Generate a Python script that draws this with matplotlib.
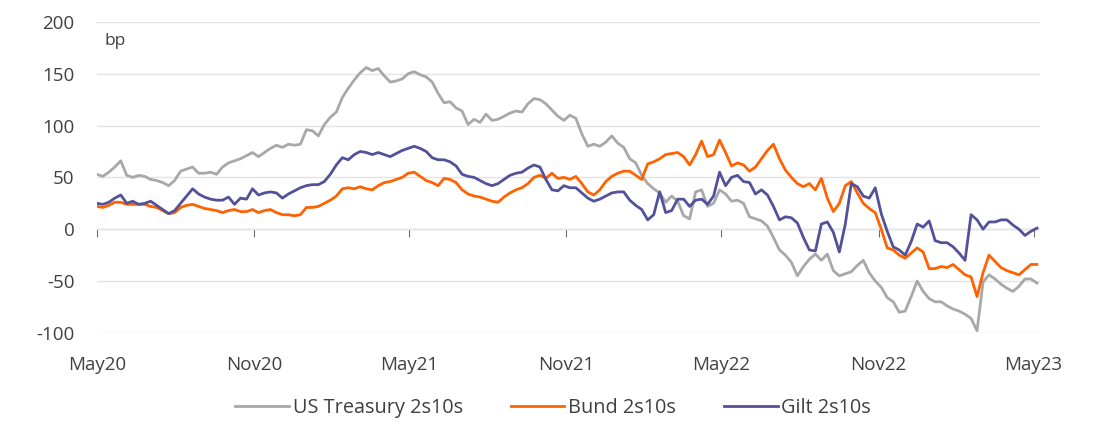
import numpy as np
import pandas as pd
import matplotlib
matplotlib.use('Agg')
import matplotlib.pyplot as plt
import matplotlib.dates as mdates

plt.rcParams['font.family'] = ['Open Sans', 'DejaVu Sans']
plt.rcParams['axes.unicode_minus'] = False

# weekly observations, May 2020 - May 2023 (bp)
dates = pd.date_range('2020-05-01', periods=158, freq='7D')

ust = [53, 51, 55, 60, 66, 52, 50, 52, 51, 48, 47, 45, 42, 47, 56, 58, 60, 54, 54, 55,
       53, 60, 64, 66, 68, 71, 74, 70, 74, 78, 81, 79, 82, 81, 82, 96, 95, 90, 101, 108,
       113, 127, 136, 144, 151, 156, 153, 155, 148, 142, 143, 145, 150, 152, 149, 147, 142, 131, 122, 123,
       117, 114, 101, 106, 103, 111, 105, 106, 109, 112, 114, 113, 121, 126, 125, 121, 115, 109, 105, 110,
       107, 92, 80, 82, 80, 84, 90, 83, 79, 68, 64, 52, 44, 39, 35, 26, 32, 27, 13, 10,
       36, 38, 22, 25, 38, 34, 27, 28, 25, 12, 10, 8, 3, -8, -20, -25, -32, -45, -36, -29,
       -24, -30, -24, -40, -45, -43, -41, -35, -30, -42, -50, -56, -66, -70, -80, -79, -65, -50, -60, -67,
       -70, -70, -74, -77, -79, -82, -86, -98, -51, -44, -48, -53, -57, -60, -55, -48, -48, -52]

bund = [22, 21, 23, 26, 26, 24, 24, 24, 24, 22, 21, 18, 15, 16, 21, 23, 24, 22, 20, 19,
        18, 16, 18, 19, 17, 17, 19, 16, 18, 19, 16, 14, 14, 13, 14, 21, 21, 22, 25, 28,
        32, 39, 40, 39, 41, 39, 38, 42, 45, 46, 48, 50, 54, 55, 51, 47, 45, 42, 49, 48,
        45, 38, 34, 32, 31, 29, 27, 26, 31, 35, 38, 40, 44, 50, 52, 49, 54, 49, 50, 48,
        51, 44, 36, 33, 38, 46, 51, 54, 56, 56, 52, 48, 63, 65, 68, 72, 73, 74, 70, 62,
        72, 85, 70, 72, 86, 74, 61, 64, 62, 56, 60, 68, 76, 82, 68, 57, 50, 44, 41, 44,
        38, 49, 30, 17, 25, 42, 46, 35, 25, 20, 16, 0, -18, -20, -25, -28, -23, -18, -22, -38,
        -38, -36, -37, -34, -39, -44, -46, -65, -42, -25, -31, -37, -40, -42, -44, -39, -34, -34]

gilt = [25, 24, 26, 30, 33, 25, 27, 24, 25, 27, 23, 19, 15, 18, 25, 32, 39, 34, 31, 29,
        28, 28, 31, 24, 30, 29, 39, 33, 35, 36, 35, 30, 34, 37, 40, 42, 43, 43, 46, 53,
        62, 69, 67, 72, 75, 74, 72, 74, 72, 70, 73, 76, 78, 80, 78, 75, 69, 67, 67, 65,
        61, 53, 51, 50, 47, 44, 42, 44, 48, 52, 54, 55, 59, 62, 60, 48, 38, 37, 42, 40,
        40, 35, 30, 27, 29, 32, 35, 36, 36, 28, 23, 19, 9, 14, 36, 16, 18, 29, 29, 22,
        28, 29, 24, 32, 55, 42, 50, 52, 46, 45, 34, 38, 33, 22, 9, 12, 11, 6, -8, -20,
        -21, 5, 7, -3, -22, 5, 44, 41, 32, 30, 40, 15, -2, -17, -20, -25, -12, 5, 2, 8,
        -11, -13, -13, -17, -23, -30, 14, 9, 0, 7, 7, 9, 9, 4, 0, -6, -2, 1]

tick_dates = pd.date_range('2020-05-01', periods=7, freq='6MS')
tick_labels = ['May20', 'Nov20', 'May21', 'Nov21', 'May22', 'Nov22', 'May23']

fig = plt.figure(figsize=(11, 4.38), dpi=100)
ax = fig.add_axes([0.088, 0.24, 0.857, 0.71])

ax.plot(dates, ust, color='#A8A8A8', lw=2.0, label='US Treasury 2s10s')
ax.plot(dates, bund, color='#FF6200', lw=2.0, label='Bund 2s10s')
ax.plot(dates, gilt, color='#525199', lw=2.0, label='Gilt 2s10s')

ax.set_ylim(-100, 200)
ax.set_yticks(range(-100, 201, 50))
ax.set_xlim(pd.Timestamp('2020-05-01'), pd.Timestamp('2023-05-08'))
ax.grid(axis='y', color='#E4E4E4', lw=1)
ax.set_axisbelow(True)
for s in ax.spines.values():
    s.set_visible(False)

ax.set_xticks(tick_dates)
ax.set_xticklabels(tick_labels)
ax.tick_params(axis='x', length=0, pad=17, labelsize=13.5, colors='#404040')
ax.tick_params(axis='y', length=0, pad=16, labelsize=13.5, colors='#404040')

# zero line with month ticks
zero = ax.secondary_xaxis(1 / 3)
zero.set_xticks(tick_dates)
zero.set_xticklabels([])
zero.spines['bottom'].set_color('#707070')
zero.tick_params(axis='x', direction='out', length=6, color='#707070')

ax.text(0.008, 0.965, 'bp', transform=ax.transAxes, fontsize=12.5, color='#404040',
        va='top', ha='left')

fig.legend(loc='center', bbox_to_anchor=(0.503, 0.068), ncol=3, frameon=False,
           fontsize=14.3, handlelength=2.7, handletextpad=0.2, columnspacing=2.4,
           labelcolor='#404040')

fig.savefig('out.png', dpi=100)
